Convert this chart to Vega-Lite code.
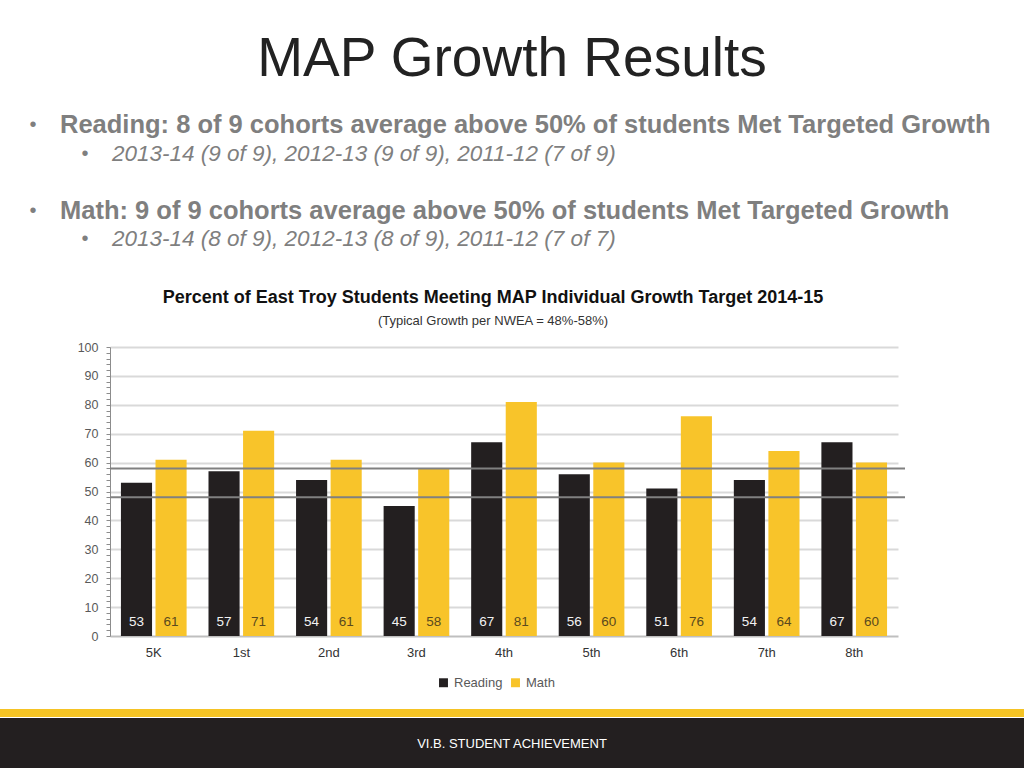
{
  "$schema": "https://vega.github.io/schema/vega-lite/v6.json",
  "padding": {"top": 32, "left": 0, "right": 0, "bottom": 0},
  "background": "white",
  "columns": 1,
  "spacing": 17,
  "align": "none",
  "resolve": {"scale": {"color": "independent"}, "legend": {"color": "independent"}},
  "config": {"view": {"stroke": null}, "font": "Liberation Sans"},
  "concat": [
    {
      "width": 1024,
      "height": 171,
      "title": {"text": "MAP Growth Results", "fontSize": 55, "fontWeight": "normal", "color": "#222222", "anchor": "middle", "offset": 13, "font": "Liberation Sans"},
      "data": {"values": [
        {"row": 1, "level": "main", "text": "Reading: 8 of 9 cohorts average above 50% of students Met Targeted Growth"},
        {"row": 2, "level": "sub", "text": "2013-14 (9 of 9), 2012-13 (9 of 9), 2011-12 (7 of 9)"},
        {"row": 4, "level": "main", "text": "Math: 9 of 9 cohorts average above 50% of students Met Targeted Growth"},
        {"row": 5, "level": "sub", "text": "2013-14 (8 of 9), 2012-13 (8 of 9), 2011-12 (7 of 7)"}
      ]},
      "encoding": {
        "x": {"field": "level", "type": "ordinal", "scale": {"type": "point", "domain": ["main", "sub"], "range": [60, 112], "padding": 0}, "axis": null},
        "y": {"field": "row", "type": "ordinal", "scale": {"type": "point", "domain": [1, 2, 3, 4, 5], "range": [24, 138], "padding": 0}, "axis": null}
      },
      "layer": [
        {"mark": {"type": "text", "text": "•", "align": "center", "baseline": "middle", "dx": -27, "fontSize": 20, "color": "#7f7f7f"}},
        {"transform": [{"filter": "datum.level === 'main'"}], "mark": {"type": "text", "align": "left", "baseline": "middle", "fontSize": 25.5, "fontWeight": "bold", "color": "#7f7f7f"}, "encoding": {"text": {"field": "text"}}},
        {"transform": [{"filter": "datum.level === 'sub'"}], "mark": {"type": "text", "align": "left", "baseline": "middle", "fontSize": 22.5, "fontStyle": "italic", "color": "#7f7f7f"}, "encoding": {"text": {"field": "text"}}}
      ]
    },
    {
      "width": 898,
      "height": 289,
      "title": {
        "text": "Percent of East Troy Students Meeting MAP Individual Growth Target 2014-15",
        "subtitle": "(Typical Growth per NWEA = 48%-58%)",
        "anchor": "middle", "dx": 44, "offset": 13,
        "font": "Liberation Sans", "fontSize": 18, "fontWeight": "bold", "color": "#111111",
        "subtitleFont": "Liberation Sans", "subtitleFontSize": 13, "subtitleColor": "#333333", "subtitlePadding": 8
      },
      "resolve": {"scale": {"x": "independent"}, "axis": {"x": "independent", "y": "independent"}},
      "layer": [
        {
          "data": {"values": [
            {"grade": "5K", "subject": "Reading", "value": 53}, {"grade": "5K", "subject": "Math", "value": 61},
            {"grade": "1st", "subject": "Reading", "value": 57}, {"grade": "1st", "subject": "Math", "value": 71},
            {"grade": "2nd", "subject": "Reading", "value": 54}, {"grade": "2nd", "subject": "Math", "value": 61},
            {"grade": "3rd", "subject": "Reading", "value": 45}, {"grade": "3rd", "subject": "Math", "value": 58},
            {"grade": "4th", "subject": "Reading", "value": 67}, {"grade": "4th", "subject": "Math", "value": 81},
            {"grade": "5th", "subject": "Reading", "value": 56}, {"grade": "5th", "subject": "Math", "value": 60},
            {"grade": "6th", "subject": "Reading", "value": 51}, {"grade": "6th", "subject": "Math", "value": 76},
            {"grade": "7th", "subject": "Reading", "value": 54}, {"grade": "7th", "subject": "Math", "value": 64},
            {"grade": "8th", "subject": "Reading", "value": 67}, {"grade": "8th", "subject": "Math", "value": 60}
          ]},
          "encoding": {
            "x": {"field": "grade", "type": "nominal", "sort": null, "scale": {"range": [110, 898], "paddingInner": 0.25, "paddingOuter": 0.125},
                  "axis": {"title": null, "labelAngle": 0, "ticks": false, "domainColor": "#bfbfbf", "domainWidth": 2, "labelFontSize": 13, "labelColor": "#333333", "labelPadding": 10}},
            "xOffset": {"field": "subject", "type": "nominal", "sort": ["Reading", "Math"], "scale": {"paddingInner": 0.1}}
          },
          "layer": [
            {
              "mark": {"type": "bar"},
              "encoding": {
                "y": {"field": "value", "type": "quantitative", "scale": {"domain": [0, 100]},
                      "axis": {"title": null, "offset": -110, "tickCount": 51, "values": [0,2,4,6,8,10,12,14,16,18,20,22,24,26,28,30,32,34,36,38,40,42,44,46,48,50,52,54,56,58,60,62,64,66,68,70,72,74,76,78,80,82,84,86,88,90,92,94,96,98,100],
                               "labelExpr": "datum.value % 10 === 0 ? datum.label : ''", "labelOverlap": false, "labelFontSize": 12.5, "labelColor": "#595959", "labelPadding": 8,
                               "tickSize": 4, "tickColor": "#8c8c8c", "domainColor": "#8c8c8c", "grid": true,
                               "gridColor": {"condition": {"test": "datum.value % 10 === 0 && datum.value > 0", "value": "#d9d9d9"}, "value": "transparent"},
                               "gridWidth": 2}},
                "color": {"field": "subject", "type": "nominal", "sort": ["Reading", "Math"],
                          "scale": {"domain": ["Reading", "Math"], "range": ["#231f20", "#f8c42a"]},
                          "legend": {"title": null, "orient": "none", "legendX": 437, "legendY": 329, "direction": "horizontal", "symbolType": "square", "symbolSize": 80, "symbolStrokeWidth": 0, "labelFontSize": 13, "labelColor": "#595959", "columnPadding": 6}}
              }
            },
            {
              "mark": {"type": "text", "baseline": "middle", "align": "center", "dy": -14, "fontSize": 13.5},
              "encoding": {
                "y": {"datum": 0, "type": "quantitative"},
                "text": {"field": "value", "type": "quantitative"},
                "color": {"condition": {"test": "datum.subject === 'Reading'", "value": "#f2f2f2"}, "value": "#5b4a1e"}
              }
            }
          ]
        },
        {
          "data": {"values": [{"bound": 48}, {"bound": 58}]},
          "mark": {"type": "rule", "color": "#808080", "strokeWidth": 2},
          "encoding": {
            "y": {"field": "bound", "type": "quantitative", "axis": null},
            "x": {"datum": 0, "type": "quantitative", "scale": {"domain": [0, 1], "range": [110, 905]}, "axis": null},
            "x2": {"datum": 1}
          }
        }
      ]
    },
    {
      "spacing": 0,
      "vconcat": [
        {"width": 1024, "height": 8, "view": {"fill": "#f5c324", "stroke": null}, "data": {"values": [{"t": ""}]}, "mark": {"type": "text"}, "encoding": {"text": {"field": "t"}}},
        {"width": 1024, "height": 51, "view": {"fill": "#231f20", "stroke": null}, "data": {"values": [{"label": "VI.B. STUDENT ACHIEVEMENT"}]},
         "mark": {"type": "text", "color": "#ffffff", "fontSize": 13, "align": "center", "baseline": "middle"},
         "encoding": {"text": {"field": "label"}}}
      ]
    }
  ]
}
